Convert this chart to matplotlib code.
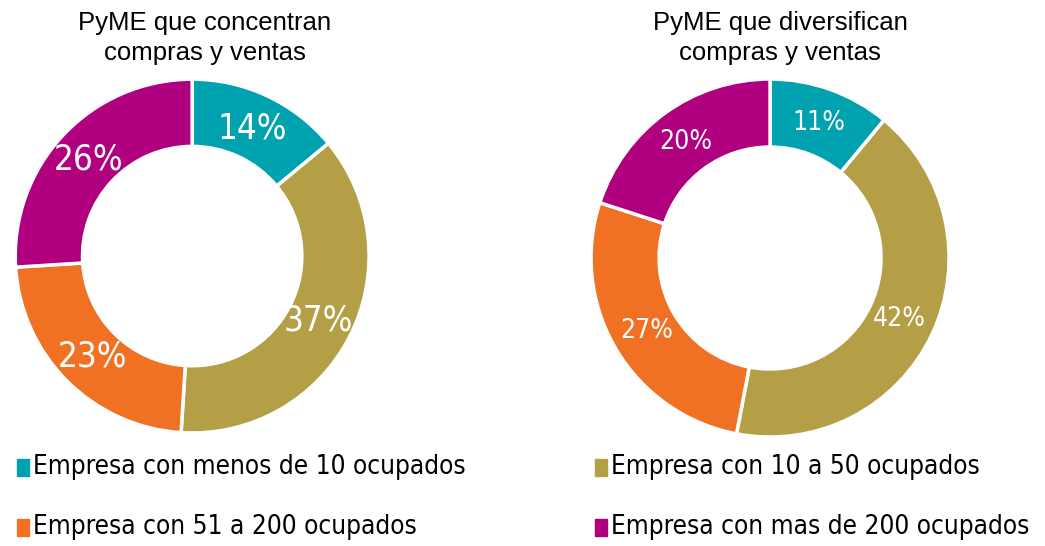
import numpy as np
import matplotlib.pyplot as plt
from matplotlib.patches import Rectangle

# datos
categorias = ['Empresa con menos de 10 ocupados', 'Empresa con 10 a 50 ocupados',
              'Empresa con 51 a 200 ocupados', 'Empresa con mas de 200 ocupados']
concentran = [14, 37, 23, 26]
diversifican = [11, 42, 27, 20]
titulos = ['PyME que concentran\ncompras y ventas', 'PyME que diversifican\ncompras y ventas']
colores = ['#00A2B0', '#B59F46', '#F07123', '#B1007F']

plt.rcParams['font.family'] = ['DejaVu Sans']

fig = plt.figure(figsize=(10.45, 5.46), dpi=100)

ejes = [
    fig.add_axes([0.0144, 0.207, 0.339, 0.648]),
    fig.add_axes([0.5656, 0.1996, 0.3426, 0.6557]),
]
tam_pct = [25, 19]

for ax, valores, tam in zip(ejes, [concentran, diversifican], tam_pct):
    ax.pie(valores, colors=colores, startangle=90, counterclock=False, radius=1,
           wedgeprops=dict(width=0.38, edgecolor='white', linewidth=2.5))
    total = sum(valores)
    ang = 90.0
    for v in valores:
        medio = np.deg2rad(ang - v / total * 180)
        ang -= v / total * 360
        ax.text(0.8 * np.cos(medio), 0.8 * np.sin(medio), f'{v}%', color='white',
                fontsize=tam, ha='center', va='center', fontstretch='condensed')
    ax.set_xlim(-1, 1)
    ax.set_ylim(-1, 1)
    ax.set_aspect('equal')
    ax.axis('off')

# titulos
for x, t in zip([205, 780], titulos):
    fig.text(x / 1045, 1 - 38 / 546, t, ha='center', va='center',
             fontsize=18.5, linespacing=1.3, family=['Liberation Sans', 'DejaVu Sans'])

# leyenda
pos = [(17, 467), (595, 467), (17, 527), (595, 527)]
for (x, y), cat, col in zip(pos, categorias, colores):
    fig.patches.append(Rectangle((x / 1045, 1 - (y + 9) / 546), 12 / 1045, 17 / 546,
                                 transform=fig.transFigure, color=col))
    fig.text((x + 16) / 1045, 1 - y / 546, cat, ha='left', va='center',
             fontsize=18.8, fontstretch='condensed')

plt.savefig('out.png', dpi=100)
